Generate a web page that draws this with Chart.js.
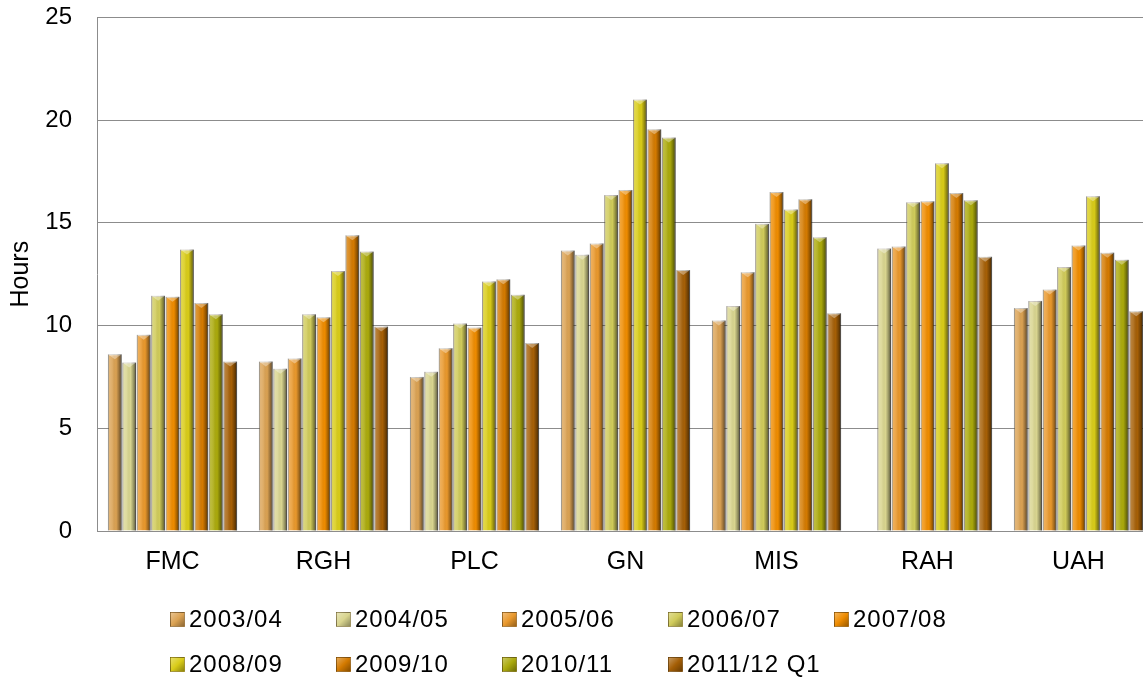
<!DOCTYPE html>
<html>
<head>
<meta charset="utf-8">
<title>Hours by site</title>
<script src="https://cdn.jsdelivr.net/npm/chart.js@4/dist/chart.umd.min.js"></script>
<style>
  html, body { margin: 0; padding: 0; background: #fff; overflow: hidden; }
  #page { position: relative; width: 1143px; height: 677px; overflow: hidden; }
  #wrap { position: absolute; left: 0; top: 0; width: 1160px; height: 600px; }
  #legend { position: absolute; left: 0; top: 0; width: 1143px; height: 677px; pointer-events: none; }
  .item { position: absolute; height: 34px; display: flex; align-items: center;
          font: 24px "Liberation Sans", Arial, sans-serif; letter-spacing: 1px; color: #000; white-space: nowrap; }
  .swatch { width: 15px; height: 15px; margin-right: 4px; box-sizing: border-box;
            border: 1px solid rgba(90,70,40,0.45); }
</style>
</head>
<body>
<div id="page">
  <div id="wrap"><canvas id="myChart"></canvas></div>
  <div id="legend"></div>
</div>
<script>
  // sites along the bottom
  let sites = ['FMC', 'RGH', 'PLC', 'GN', 'MIS', 'RAH', 'UAH'];

  // one list per year, values in site order (hours)
  let y0304 = [8.6, 8.25, 7.5, 13.65, 10.25, null, 10.85];
  let y0405 = [8.2, 7.9, 7.75, 13.45, 10.95, 13.75, 11.2];
  let y0506 = [9.55, 8.4, 8.9, 14.0, 12.6, 13.85, 11.75];
  let y0607 = [11.45, 10.55, 10.1, 16.35, 14.95, 16.0, 12.85];
  let y0708 = [11.4, 10.4, 9.9, 16.6, 16.5, 16.05, 13.9];
  let y0809 = [13.7, 12.65, 12.15, 21.0, 15.65, 17.9, 16.3];
  let y0910 = [11.1, 14.4, 12.25, 19.55, 16.15, 16.45, 13.55];
  let y1011 = [10.55, 13.6, 11.5, 19.15, 14.3, 16.1, 13.2];
  let y1112 = [8.25, 9.95, 9.15, 12.7, 10.6, 13.35, 10.7];

  let years = ['2003/04', '2004/05', '2005/06', '2006/07', '2007/08',
               '2008/09', '2009/10', '2010/11', '2011/12 Q1'];
  let yearValues = [y0304, y0405, y0506, y0607, y0708, y0809, y0910, y1011, y1112];

  let yTicks = [0, 5, 10, 15, 20, 25];

  let colors = ['#DBA253', '#D9D58F', '#E9982C', '#D0CB5A', '#EF8C00',
                '#D9CC18', '#D47A00', '#ABAA0C', '#A55F06'];

  // shading over each bar so it reads like a rounded column with a chiselled top
  let shadeBars = {
    id: 'shadeBars',
    afterDatasetsDraw(chart) {
      let ctx = chart.ctx;
      ctx.save();
      chart.data.datasets.forEach((ds, i) => {
        let meta = chart.getDatasetMeta(i);
        meta.data.forEach((bar) => {
          let p = bar.getProps(['x', 'y', 'base', 'width'], true);
          if (isNaN(p.y) || p.y === p.base) return;
          let left = p.x - p.width / 2;
          let g = ctx.createLinearGradient(left, 0, left + p.width, 0);
          g.addColorStop(0, 'rgba(0,0,0,0.22)');
          g.addColorStop(0.12, 'rgba(255,255,255,0.22)');
          g.addColorStop(0.32, 'rgba(255,255,255,0.12)');
          g.addColorStop(0.6, 'rgba(0,0,0,0)');
          g.addColorStop(0.8, 'rgba(0,0,0,0.28)');
          g.addColorStop(1, 'rgba(0,0,0,0.6)');
          ctx.fillStyle = g;
          ctx.fillRect(left, p.y, p.width, p.base - p.y);

          ctx.beginPath();
          ctx.moveTo(left, p.y);
          ctx.lineTo(left + p.width, p.y);
          ctx.lineTo(p.x, p.y + 5);
          ctx.closePath();
          ctx.fillStyle = 'rgba(255,255,255,0.35)';
          ctx.fill();
        });
      });
      ctx.restore();
    }
  };

  let datasets = years.map((label, i) => ({
    label: label,
    data: yearValues[i],
    backgroundColor: colors[i],
    borderColor: 'rgba(110,95,70,0.55)',
    borderWidth: 1,
    barPercentage: 0.95,
    categoryPercentage: 0.86
  }));

  let ctx = document.getElementById('myChart').getContext('2d');
  let chart = new Chart(ctx, {
    type: 'bar',
    data: { labels: sites, datasets: datasets },
    options: {
      responsive: true,
      maintainAspectRatio: false,
      animation: false,
      layout: { padding: { left: 0, right: 6, top: 0, bottom: 7 } },
      plugins: {
        legend: { display: false },
        tooltip: { enabled: false }
      },
      scales: {
        x: {
          grid: { display: false, drawTicks: false },
          border: { color: '#8c8c8c', width: 1 },
          ticks: {
            color: '#000',
            padding: 16,
            font: { family: '"Liberation Sans", Arial, sans-serif', size: 25 }
          }
        },
        y: {
          min: 0,
          max: 25,
          afterBuildTicks(scale) {
            scale.ticks = yTicks.map(v => ({ value: v }));
          },
          afterFit(scale) {
            scale.width = 97;
          },
          // invisible tick marks keep the labels clear of the axis line
          grid: { color: '#8c8c8c', lineWidth: 1, drawTicks: true, tickLength: 22, tickColor: 'rgba(0,0,0,0)' },
          border: { color: '#8c8c8c', width: 1 },
          ticks: {
            color: '#000',
            padding: 3,
            font: { family: '"Liberation Sans", Arial, sans-serif', size: 24 }
          },
          title: {
            display: true,
            text: 'Hours',
            color: '#000',
            padding: { top: 6, bottom: 0 },
            font: { family: '"Liberation Sans", Arial, sans-serif', size: 25 }
          }
        }
      }
    },
    plugins: [shadeBars]
  });

  // legend: five per row, fixed columns
  let legend = document.getElementById('legend');
  years.forEach((label, i) => {
    let item = document.createElement('div');
    item.className = 'item';
    item.style.left = (170 + (i % 5) * 166) + 'px';
    item.style.top = (602 + Math.floor(i / 5) * 45) + 'px';
    let sw = document.createElement('span');
    sw.className = 'swatch';
    sw.style.background = 'linear-gradient(135deg, rgba(255,255,255,0.35), rgba(0,0,0,0) 50%, rgba(0,0,0,0.35)), ' + colors[i];
    item.appendChild(sw);
    item.appendChild(document.createTextNode(label));
    legend.appendChild(item);
  });
</script>
</body>
</html>
